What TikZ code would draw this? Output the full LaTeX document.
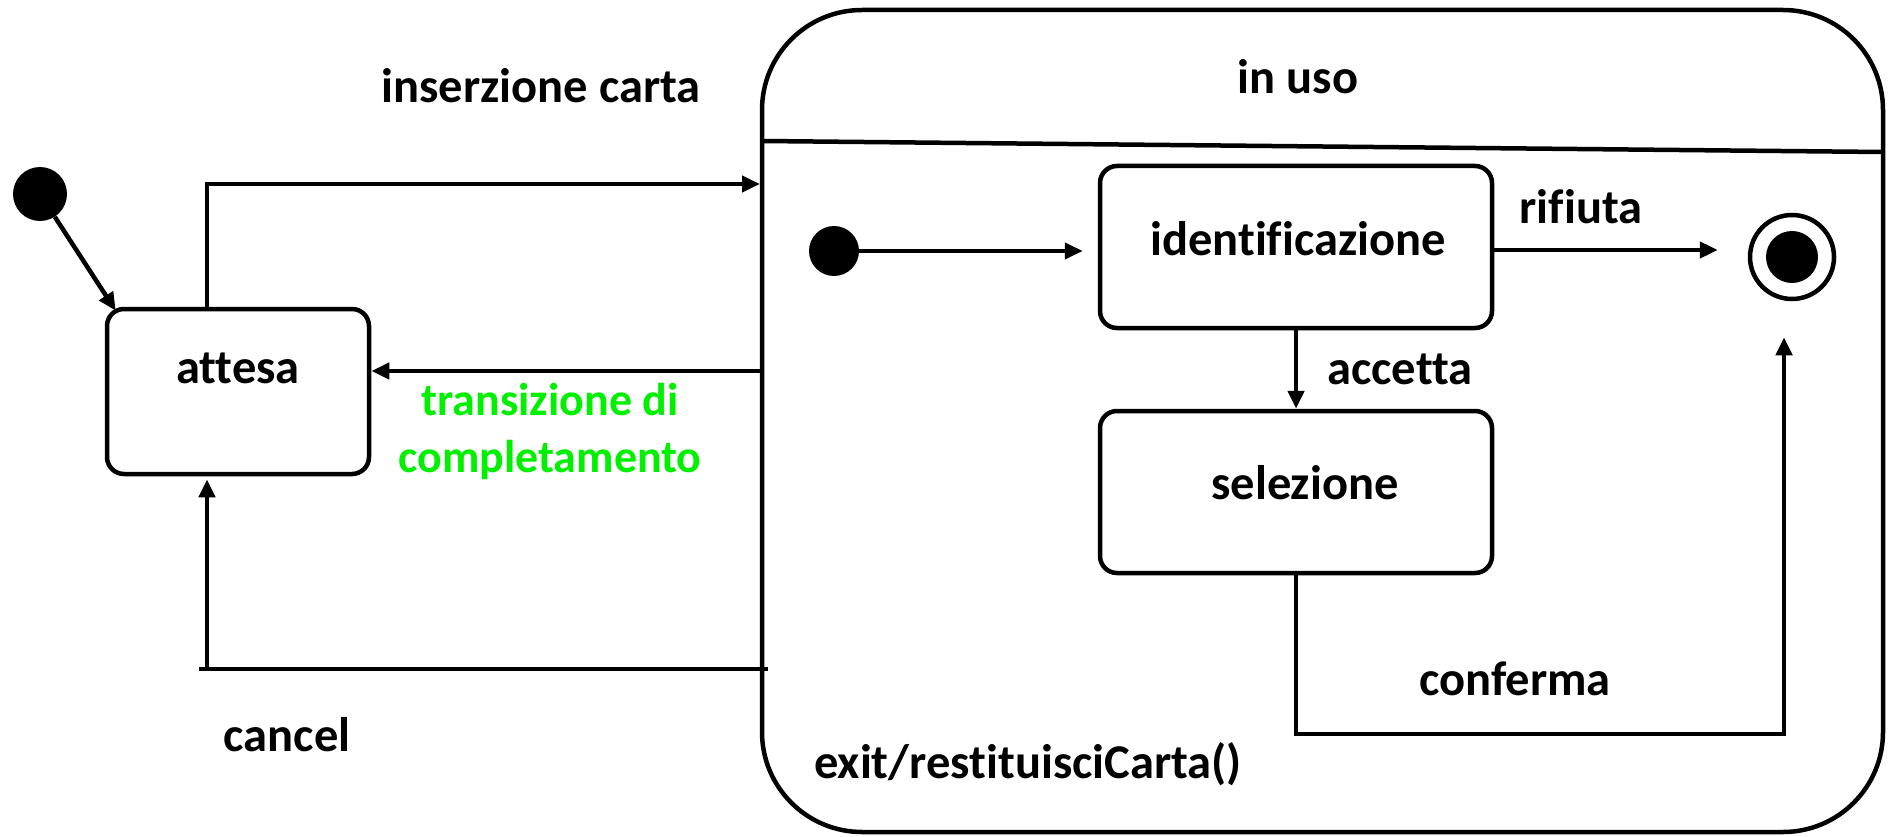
\documentclass[tikz,border=0pt]{standalone}
\usepackage{fontspec}
\setmainfont{Carlito}[Ligatures=NoCommon]
\usetikzlibrary{arrows.meta}
\tikzset{
  lbl/.style={font=\fontsize{48.5}{58}\selectfont\bfseries, inner sep=0pt},
  statebox/.style={draw, line width=4.5pt, rounded corners=17pt, fill=white},
  arr/.style={line width=4.5pt, -{Triangle[length=18pt,width=16pt]}},
  plain/.style={line width=4.5pt},
  dot/.style={circle, fill=black, inner sep=0pt},
}
\definecolor{lgreen}{RGB}{0,240,0}
\begin{document}
\begin{tikzpicture}[x=1pt,y=-1pt]
\useasboundingbox (0,0) rectangle (1890,837);
% composite state
\node[draw, line width=4.5pt, rounded corners=100pt, minimum width=1121pt, minimum height=822pt, inner sep=0pt] (inuso) at (1322.5,421) {};
\coordinate (sepL) at (762,141);
\coordinate (sepR) at (1883,152);
\draw[plain] (sepL) -- (sepR);
\node[lbl] (inusoT) at (1298,77) {in uso};
% left part
\node[dot, minimum size=54pt] (init) at (40,194) {};
\node[statebox, minimum width=262pt, minimum height=165pt] (attesa) at (238,391.5) {};
\node[lbl] (attesaT) at (238,368) {attesa};
\draw[arr] (init) -- ([xshift=11pt,yshift=-4pt]attesa.north west);
\coordinate (insEnd) at (760,184);
\draw[arr] ([xshift=-31pt]attesa.north) |- (insEnd);
\node[lbl] (insT) at (541,86) {inserzione carta};
\coordinate (compStart) at (762,371);
\draw[arr] (compStart) -- (compStart -| attesa.east);
\node[lbl, text=lgreen, align=center, font=\fontsize{46}{57}\selectfont\bfseries] (compT) at (550,431) {transizione di\\completamento};
\coordinate (cancelR) at (768,669);
\coordinate (cancelL) at (199,669);
\draw[plain] (cancelR) -- (cancelL);
\coordinate (cancelC) at (207,669);
\draw[arr, shorten >=3pt] (cancelC) -- ([xshift=-31pt]attesa.south);
\node[lbl] (cancelT) at (287,735) {cancel};
% inner
\node[dot, minimum size=50pt] (init2) at (834,251) {};
\node[statebox, minimum width=392pt, minimum height=162pt] (ident) at (1296,247) {};
\node[lbl] (identT) at (1298,239) {identificazione};
\node[statebox, minimum width=392pt, minimum height=162pt] (sel) at (1296,492) {};
\node[lbl] (selT) at (1305,483) {selezione};
\node[circle, draw, line width=4.5pt, fill=white, minimum size=84pt, inner sep=0pt] (final) at (1792,257) {};
\node[dot, minimum size=52pt] (finalIn) at (final) {};
\draw[arr, shorten >=15pt] (init2) -- (init2 -| ident.west);
\coordinate (rifS) at (1492,250);
\draw[arr, shorten >=30pt] (rifS) -- (rifS -| final.west);
\node[lbl] (rifT) at (1581,207) {rifiuta};
\draw[arr] (ident.south) -- (sel.north);
\node[lbl] (accT) at (1400,369) {accetta};
\coordinate (confCorner) at (1784,734);
\draw[arr, shorten >=36pt] (sel.south) |- (confCorner) -- (confCorner |- final.south);
\node[lbl] (confT) at (1515,679) {conferma};
\node[lbl] (exitT) at (1028,764) {exit/restituisciCarta()};
\end{tikzpicture}
\end{document}
